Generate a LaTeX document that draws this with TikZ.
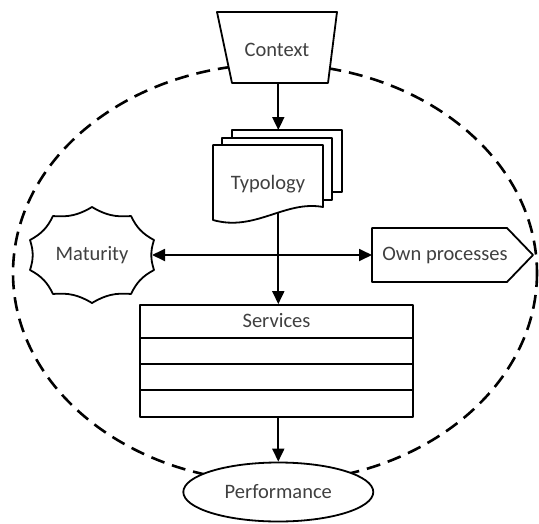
\documentclass[tikz,border=0pt]{standalone}
\usepackage{fontspec}
\setmainfont{Carlito}
\usetikzlibrary{arrows.meta,shapes.geometric}
\begin{document}
\begin{tikzpicture}[x=1pt,y=-1pt,
  shapeline/.style={draw=black, line width=1.8pt, fill=white, line join=round},
  lbl/.style={font=\fontsize{20.5}{24}\selectfont, text=black!75, inner sep=0pt},
  hold/.style={inner sep=0pt, outer sep=0pt},
  arr/.style={draw=black, line width=1.8pt, -{Triangle[length=13pt,width=12pt]}},
  darr/.style={draw=black, line width=1.8pt, {Triangle[length=13pt,width=12pt]}-{Triangle[length=13pt,width=12pt]}},
  boundary/.style={draw, line width=2.6pt, dash pattern=on 14pt off 8pt}]
\useasboundingbox (0,0) rectangle (539,523);

% dashed boundary
\draw[boundary] (275,273) ellipse [x radius=262, y radius=209];

% invisible holder nodes used for connectors
\node[hold, minimum width=111pt, minimum height=71pt] (context) at (278.3,47.5) {};
\node[hold, minimum width=129pt, minimum height=92pt] (typology) at (278.3,176) {};
\node[hold, minimum width=120pt, minimum height=94pt] (maturity) at (92,255) {};
\node[hold, minimum width=161pt, minimum height=54pt] (own) at (452.5,255) {};
\coordinate (typbot) at (278.3,212);

% Context trapezoid
\draw[shapeline] (217,12) -- (337,12) -- (328,83) -- (232,83) -- cycle;
\node[lbl] (contextlbl) at (277,50) {Context};

% Typology multi-document
\draw[shapeline] (232,130) rectangle (342,192);
\draw[shapeline] (222,138) rectangle (332,200);
\draw[shapeline] (213,145) -- (323,145) -- (323,207)
  .. controls (285,200) and (255,232) .. (213,220) -- cycle;
\node[lbl] (typologylbl) at (268,184) {Typology};

% Maturity (scalloped shape)
\draw[shapeline] (92,207) to[bend right=18] (131,216) to[bend right=18] (154,240)
  to[bend right=18] (154,270) to[bend right=18] (131,294) to[bend right=18] (92,303)
  to[bend right=18] (53,294) to[bend right=18] (30,270) to[bend right=18] (30,240)
  to[bend right=18] (53,216) to[bend right=18] (92,207) -- cycle;
\node[lbl] (maturitylbl) at (92,255) {Maturity};

% Own processes (pentagon arrow)
\draw[shapeline] (372,228) -- (507,228) -- (533,255) -- (507,282) -- (372,282) -- cycle;
\node[lbl] (ownlbl) at (445,255) {Own processes};

% Services table
\node[shapeline, minimum width=273pt, minimum height=112pt, inner sep=0pt] (services) at (276.5,361) {};
\draw[line width=1.8pt] (140,338) -- (413,338);
\draw[line width=1.8pt] (140,364) -- (413,364);
\draw[line width=1.8pt] (140,390) -- (413,390);
\node[lbl] (serviceslbl) at (276.5,321) {Services};

% Performance
\node[shapeline, lbl, ellipse, minimum width=190pt, minimum height=59pt] (performance) at (278.3,492) {Performance};

% connectors
\draw[arr] (context.south) -- (typology.north);
\draw[arr] (typbot) -- (typbot |- services.north);
\draw[darr] (maturity.east) -- (own.west);
\draw[arr] (performance.north |- services.south) -- (performance.north);
\end{tikzpicture}
\end{document}
